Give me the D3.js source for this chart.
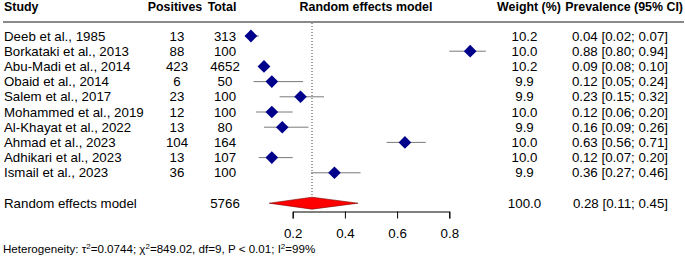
<!DOCTYPE html>
<html>
<head>
<meta charset="utf-8">
<script src="https://cdn.jsdelivr.net/npm/d3@7"></script>
<style>
  body { margin: 0; background: #fff; }
  svg { font-family: "Liberation Sans", Arial, sans-serif; }
</style>
</head>
<body>
<svg id="forest" width="685" height="257"></svg>
<script>
// Study data
const studies = ["Deeb et al., 1985", "Borkataki et al., 2013", "Abu-Madi et al., 2014", "Obaid et al., 2014",
  "Salem et al., 2017", "Mohammed et al., 2019", "Al-Khayat et al., 2022", "Ahmad et al., 2023",
  "Adhikari et al., 2023", "Ismail et al., 2023"];
const positives = [13, 88, 423, 6, 23, 12, 13, 104, 13, 36];
const totals = [313, 100, 4652, 50, 100, 100, 80, 164, 107, 100];
const weights = [10.2, 10.0, 10.2, 9.9, 9.9, 10.0, 9.9, 10.0, 10.0, 9.9];
const prev = [0.04, 0.88, 0.09, 0.12, 0.23, 0.12, 0.16, 0.63, 0.12, 0.36];
const lower = [0.02, 0.80, 0.08, 0.05, 0.15, 0.06, 0.09, 0.56, 0.07, 0.27];
const upper = [0.07, 0.94, 0.10, 0.24, 0.32, 0.20, 0.26, 0.71, 0.20, 0.46];

// Pooled estimate
const pooled = { label: "Random effects model", total: 5766, weight: 100.0, est: 0.274, lo: 0.11, hi: 0.45, estLabel: 0.28 };
const axisTicks = [0.2, 0.4, 0.6, 0.8];
const heterogeneity = { tau2: "0.0744", chi2: "849.02", df: 9, p: "P < 0.01", i2: "99%" };

const svg = d3.select("#forest");
const fs = 13.3;
const f2 = d3.format(".2f");

// x scale covers the axis span; values outside extrapolate
const x = d3.scaleLinear().domain([0.2, 0.8]).range([292.7, 449.3]);
const y = d3.scaleLinear().domain([0, 11]).range([36, 203.2]);
const size = d3.scaleSqrt().domain([0, 10.2]).range([0, 6.4]);

// Headers
const headers = [
  { t: "Study", x: 4, a: "start" },
  { t: "Positives", x: 175, a: "middle" },
  { t: "Total", x: 222, a: "middle" },
  { t: "Random effects model", x: 366, a: "middle" },
  { t: "Weight (%)", x: 529, a: "middle" },
  { t: "Prevalence (95% CI)", x: 683, a: "end" }
];
svg.selectAll("text.hdr").data(headers).join("text")
  .attr("class", "hdr")
  .attr("x", d => d.x).attr("y", 10.5)
  .attr("text-anchor", d => d.a)
  .attr("font-size", 12.4).attr("font-weight", "bold")
  .text(d => d.t);

svg.append("line")
  .attr("x1", 3).attr("x2", 684).attr("y1", 22).attr("y2", 22)
  .attr("stroke", "#8a8a8a").attr("stroke-width", 2);

// Reference line at pooled estimate
svg.append("line")
  .attr("x1", x(pooled.est)).attr("x2", x(pooled.est))
  .attr("y1", 23).attr("y2", y(11) - 6)
  .attr("stroke", "#444").attr("stroke-width", 1).attr("stroke-dasharray", "1,2");

// Study rows
const rows = studies.map((s, i) => ({ s, i, pos: positives[i], tot: totals[i], w: weights[i], p: prev[i], lo: lower[i], hi: upper[i] }));
const row = svg.selectAll("g.row").data(rows).join("g")
  .attr("class", "row")
  .attr("transform", d => `translate(0,${y(d.i)})`);

const txt = (sel, xp, anchor, fn) => sel.append("text")
  .attr("x", xp).attr("y", 4.6).attr("text-anchor", anchor)
  .attr("font-size", fs).text(fn);

txt(row, 4, "start", d => d.s);
txt(row, 177, "middle", d => d.pos);
txt(row, 225, "middle", d => d.tot);
txt(row, 524.5, "middle", d => d.w.toFixed(1));
txt(row, 668, "end", d => `${f2(d.p)} [${f2(d.lo)}; ${f2(d.hi)}]`);

row.append("line")
  .attr("x1", d => x(d.lo)).attr("x2", d => x(d.hi))
  .attr("stroke", "#7a7a7a").attr("stroke-width", 1);

row.append("path")
  .attr("d", d => {
    const r = size(d.w), cx = x(d.p);
    return `M${cx - r},0L${cx},${-r}L${cx + r},0L${cx},${r}Z`;
  })
  .attr("fill", "#00008b");

// Pooled row
const pr = svg.append("g").attr("transform", `translate(0,${y(11)})`);
txt(pr, 4, "start", pooled.label);
txt(pr, 225, "middle", pooled.total);
txt(pr, 524.5, "middle", pooled.weight.toFixed(1));
txt(pr, 668, "end", `${f2(pooled.estLabel)} [${f2(pooled.lo)}; ${f2(pooled.hi)}]`);
pr.append("path")
  .attr("d", `M${x(pooled.lo)},0L${x(pooled.est)},-6L${x(pooled.hi)},0L${x(pooled.est)},6Z`)
  .attr("fill", "#ff0000").attr("stroke", "#7a0000").attr("stroke-width", 0.6);

// Axis
const ax = svg.append("g")
  .attr("transform", "translate(0,211.5)")
  .call(d3.axisBottom(x).tickValues(axisTicks).tickSizeOuter(0).tickSize(7).tickFormat(d3.format(".1f")));
ax.select(".domain").attr("stroke", "#000");
ax.selectAll(".tick line").attr("stroke", "#000");
ax.selectAll(".tick text")
  .attr("font-size", fs).attr("font-family", "Liberation Sans, Arial, sans-serif")
  .attr("fill", "#000").attr("y", 26).attr("dy", 0);

// Heterogeneity footnote
const het = svg.append("text")
  .attr("x", 3).attr("y", 253).attr("font-size", 11.6);
het.append("tspan").text("Heterogeneity: τ");
het.append("tspan").attr("dy", -4.5).attr("font-size", 8).text("2");
het.append("tspan").attr("dy", 4.5).text(`=${heterogeneity.tau2}; χ`);
het.append("tspan").attr("dy", -4.5).attr("font-size", 8).text("2");
het.append("tspan").attr("dy", 4.5).text(`=${heterogeneity.chi2}, df=${heterogeneity.df}, ${heterogeneity.p}; I`);
het.append("tspan").attr("dy", -4.5).attr("font-size", 8).text("2");
het.append("tspan").attr("dy", 4.5).text(`=${heterogeneity.i2}`);
</script>
</body>
</html>
